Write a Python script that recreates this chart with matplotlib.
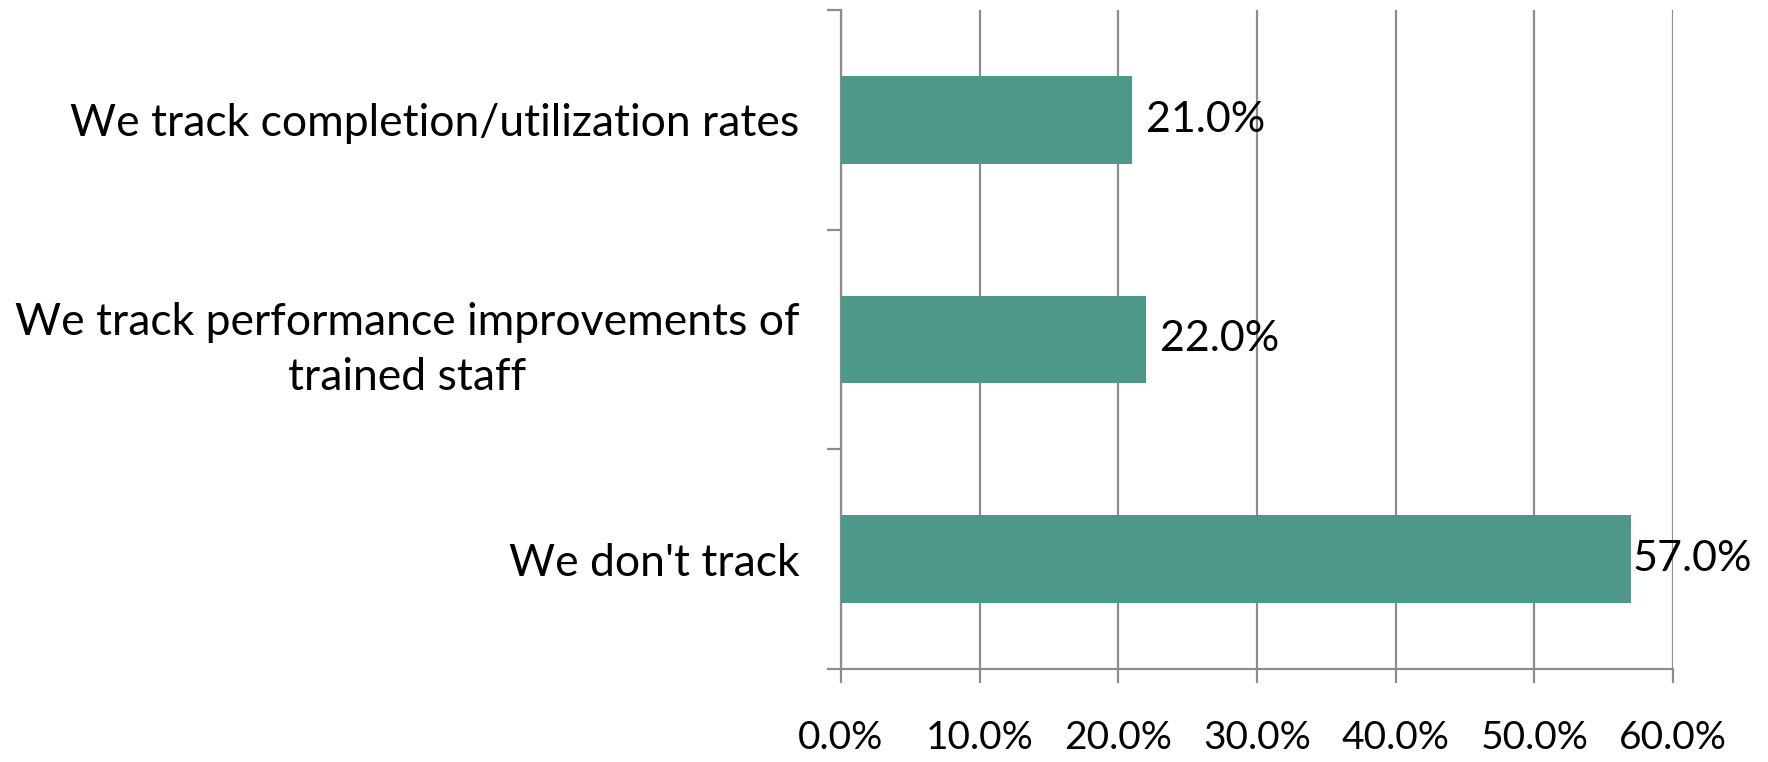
import matplotlib
matplotlib.use("Agg")
import matplotlib.pyplot as plt
import numpy as np

plt.rcParams['font.family'] = ['Lato', 'DejaVu Sans']

categories = [
  "We track completion/utilization rates",
  "We track performance improvements of\ntrained staff",
  "We don't track",
]
values = [21.0, 22.0, 57.0]  # percent
x_ticks = [0, 10, 20, 30, 40, 50, 60]

BAR_COLOR = "#4E988A"
GRID_COLOR = "#8C8C8C"

fig = plt.figure(figsize=(17.68, 7.62), dpi=100)
ax = fig.add_axes([0.4757, 0.122, 0.9463 - 0.4757, 0.987 - 0.122])

y = np.arange(len(categories))
ax.barh(y, values, height=0.4, color=BAR_COLOR, zorder=3)

# data labels; the long bar gets its label squeezed right against the end
for yi, v in zip(y, values):
  offset = 10 if v < 50 else 1
  ax.annotate(f"{v:.1f}%", (v, yi), xytext=(offset, 0),
              textcoords="offset points", va="center", ha="left",
              fontsize=31, color="black", zorder=4)

ax.set_xlim(0, 60)
ax.set_ylim(len(categories) - 0.5, -0.5)

ax.set_xticks(x_ticks)
ax.set_xticklabels([f"{t:.1f}%" for t in x_ticks], fontsize=28)
ax.xaxis.grid(True, color=GRID_COLOR, linewidth=1.6, zorder=0)

# boundaries between categories get tick marks, labels sit in between
ax.set_yticks(np.arange(-0.5, len(categories), 1.0))
ax.set_yticklabels([])
ax.set_yticks(y, minor=True)
ax.set_yticklabels(categories, minor=True, fontsize=32, ha="right",
                   multialignment="center", linespacing=1.4)
ax.tick_params(axis="y", which="minor", length=0, pad=30)
ax.tick_params(axis="y", which="major", length=10, width=1.6,
               color=GRID_COLOR)
ax.tick_params(axis="x", length=10, width=1.6, color=GRID_COLOR, pad=27)

for side in ("top", "right"):
  ax.spines[side].set_visible(False)
for side in ("left", "bottom"):
  ax.spines[side].set_color(GRID_COLOR)
  ax.spines[side].set_linewidth(1.6)

fig.savefig("out.png", dpi=100)
